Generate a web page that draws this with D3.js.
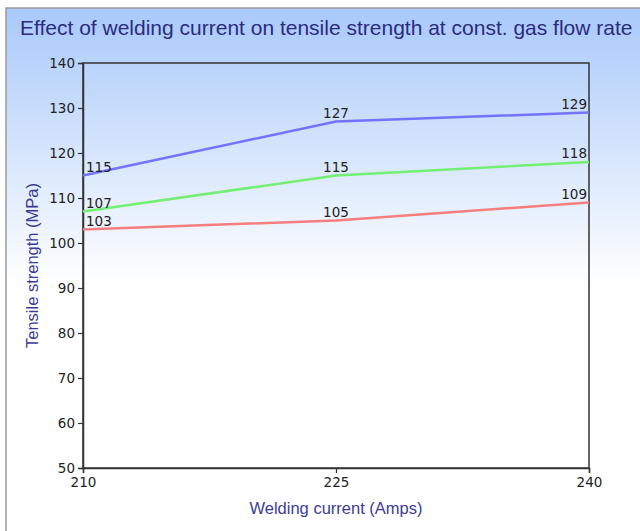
<!DOCTYPE html>
<html>
<head>
<meta charset="utf-8">
<script src="https://cdn.jsdelivr.net/npm/d3@7/dist/d3.min.js"></script>
<style>
  html, body { margin: 0; padding: 0; background: #fff; }
  svg { display: block; }
</style>
</head>
<body>
<div id="chart"></div>
<script>
// ─── data ────────────────────────────────────────────────────────────────────
const currents = [210, 225, 240];
const seriesTop = [115, 127, 129];
const seriesMid = [107, 115, 118];
const seriesLow = [103, 105, 109];
const yTicks = [50, 60, 70, 80, 90, 100, 110, 120, 130, 140];

const COLOR_TOP = "#7373ff";
const COLOR_MID = "#73f073";
const COLOR_LOW = "#f57f7f";
const COLOR_TITLE = "#2b2b80";
const COLOR_AXIS_LABEL = "#3c3c96";

const width = 640, height = 531;
const margin = { left: 83, right: 51, top: 63, bottom: 63 };

const svg = d3.select("#chart").append("svg")
    .attr("width", width)
    .attr("height", height);

const defs = svg.append("defs");
const grad = defs.append("linearGradient")
    .attr("id", "bg")
    .attr("x1", 0).attr("y1", 0).attr("x2", 0).attr("y2", 1);
grad.append("stop").attr("offset", "0%").attr("stop-color", "#a9c9fa");
grad.append("stop").attr("offset", "52%").attr("stop-color", "#ffffff");
grad.append("stop").attr("offset", "100%").attr("stop-color", "#ffffff");

// background + frame
svg.append("rect")
    .attr("x", 6).attr("y", 8)
    .attr("width", width).attr("height", height)
    .attr("fill", "url(#bg)")
    .attr("stroke", "#9a9a9a")
    .attr("stroke-width", 1.5);

svg.append("text")
    .attr("x", 20).attr("y", 35)
    .attr("font-family", "Liberation Sans, Arial, sans-serif")
    .attr("font-size", 21)
    .attr("fill", COLOR_TITLE)
    .text("Effect of welding current on tensile strength at const. gas flow rate");

const x = d3.scaleLinear().domain([210, 240]).range([margin.left, width - margin.right]);
const y = d3.scaleLinear().domain([50, 140]).range([height - margin.bottom, margin.top]);

const g = svg.append("g");

// plot frame (top/right)
g.append("rect")
    .attr("x", x(210)).attr("y", y(140))
    .attr("width", x(240) - x(210)).attr("height", y(50) - y(140))
    .attr("fill", "none")
    .attr("stroke", "#333")
    .attr("stroke-width", 1.5);

const yAxis = g.append("g")
    .attr("transform", `translate(${x(210)},0)`)
    .call(d3.axisLeft(y).tickValues(yTicks).tickSize(5).tickPadding(3));
const xAxis = g.append("g")
    .attr("transform", `translate(0,${y(50)})`)
    .call(d3.axisBottom(x).tickValues(currents).tickSize(5).tickPadding(4));

[yAxis, xAxis].forEach(ax => {
    ax.select(".domain").attr("stroke", "#333").attr("stroke-width", 1.5);
    ax.selectAll(".tick line").attr("stroke", "#333").attr("stroke-width", 1.2);
    ax.selectAll(".tick text")
        .attr("font-family", "DejaVu Sans, sans-serif")
        .attr("font-size", 13.5)
        .attr("fill", "#222");
});

const line = d3.line()
    .x((d, i) => x(currents[i]))
    .y(d => y(d));

const series = [
    { values: seriesTop, color: COLOR_TOP },
    { values: seriesMid, color: COLOR_MID },
    { values: seriesLow, color: COLOR_LOW }
];

series.forEach(s => {
    g.append("path")
        .datum(s.values)
        .attr("d", line)
        .attr("fill", "none")
        .attr("stroke", s.color)
        .attr("stroke-width", 2.5);

    g.selectAll(null)
        .data(s.values)
        .enter().append("text")
        .attr("x", (d, i) => x(currents[i]) + (i === 0 ? 3 : i === currents.length - 1 ? -2 : 0))
        .attr("y", d => y(d) - 4)
        .attr("text-anchor", (d, i) => i === 0 ? "start" : i === currents.length - 1 ? "end" : "middle")
        .attr("font-family", "DejaVu Sans, sans-serif")
        .attr("font-size", 13.5)
        .attr("fill", "#222")
        .text(d => d);
});

// axis titles
svg.append("text")
    .attr("x", (x(210) + x(240)) / 2).attr("y", 514)
    .attr("text-anchor", "middle")
    .attr("font-family", "Liberation Sans, Arial, sans-serif")
    .attr("font-size", 16.5)
    .attr("fill", COLOR_AXIS_LABEL)
    .text("Welding current (Amps)");

svg.append("text")
    .attr("transform", `translate(38,${(y(50) + y(140)) / 2}) rotate(-90)`)
    .attr("text-anchor", "middle")
    .attr("font-family", "Liberation Sans, Arial, sans-serif")
    .attr("font-size", 16.5)
    .attr("fill", COLOR_AXIS_LABEL)
    .text("Tensile strength (MPa)");
</script>
</body>
</html>
